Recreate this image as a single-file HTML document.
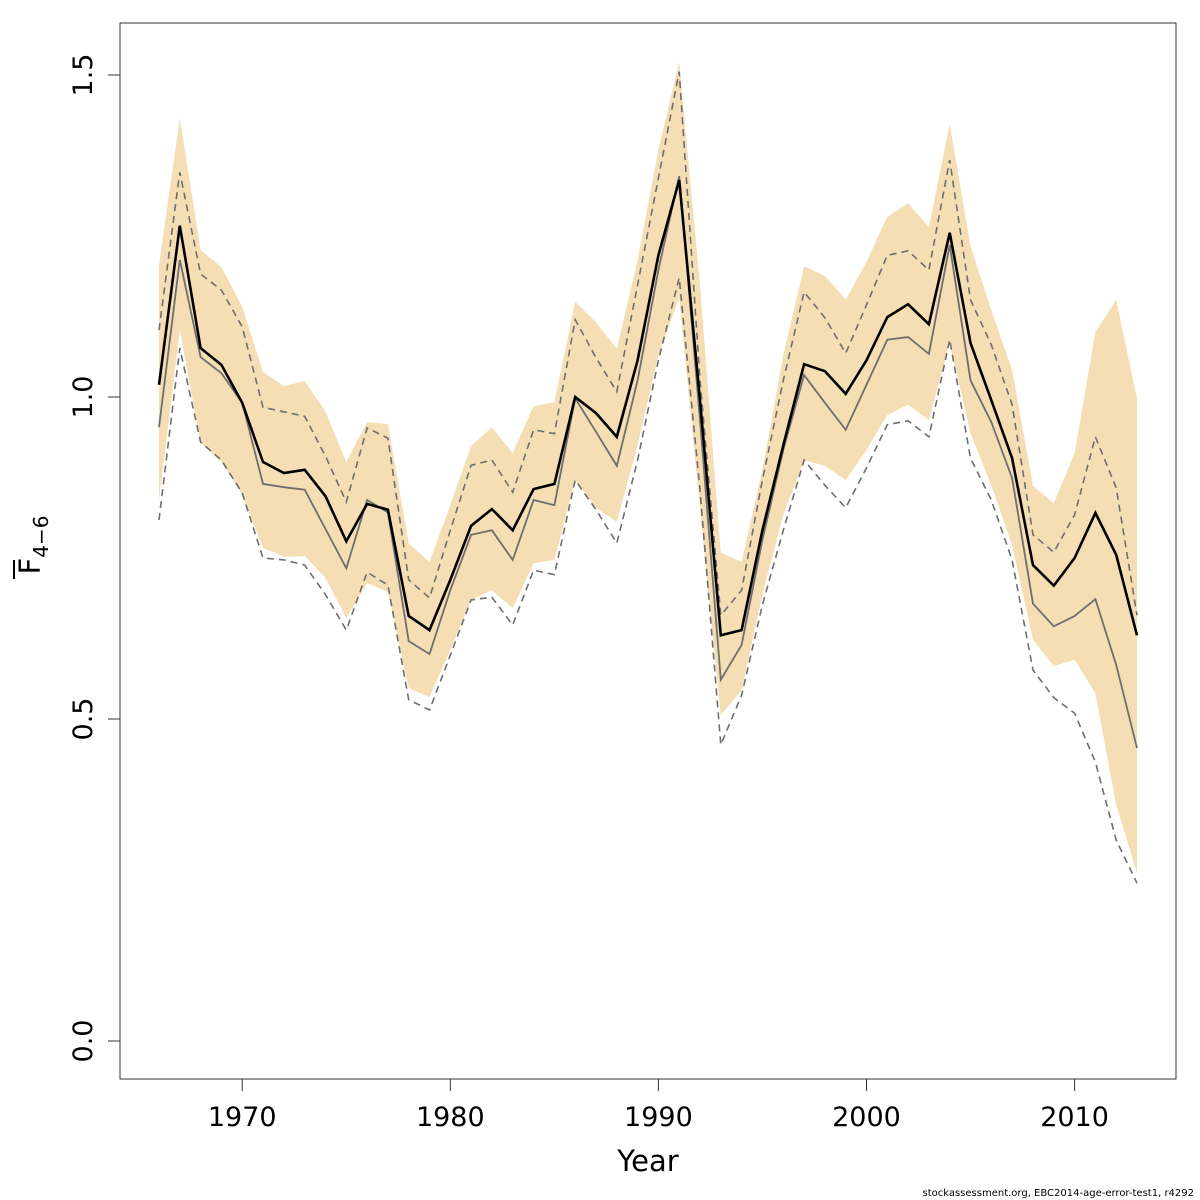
<!DOCTYPE html>
<html><head><meta charset="utf-8"><style>
html,body{margin:0;padding:0;background:#fff;}
svg{display:block;font-family:"DejaVu Sans","Liberation Sans",sans-serif;}
</style></head><body>
<svg id="chart" width="1200" height="1200" viewBox="0 0 1200 1200">
<rect x="120" y="23" width="1056" height="1056" fill="none" stroke="#333" stroke-width="1"/>
<g id="band"></g>
<g id="lines"></g>
<g id="xaxis"></g>
<g id="yaxis"></g>
<text x="648" y="1171" font-size="29" text-anchor="middle" fill="#000">Year</text>
<g transform="translate(40,545) rotate(-90)">
<text x="0" y="0" font-size="29" text-anchor="middle" fill="#000">F<tspan font-size="20" dy="8">4−6</tspan></text>
<line x1="-34" y1="-26" x2="-15" y2="-26" stroke="#000" stroke-width="2"/>
</g>
<text x="1194" y="1196" font-size="10" text-anchor="end" fill="#000">stockassessment.org, EBC2014-age-error-test1, r4292</text>
</svg>
<script>
const years = [1966,1967,1968,1969,1970,1971,1972,1973,1974,1975,1976,1977,1978,1979,1980,1981,1982,1983,1984,1985,1986,1987,1988,1989,1990,1991,1992,1993,1994,1995,1996,1997,1998,1999,2000,2001,2002,2003,2004,2005,2006,2007,2008,2009,2010,2011,2012,2013];
const estimate = [1.019,1.266,1.076,1.050,0.991,0.899,0.882,0.887,0.846,0.776,0.834,0.825,0.660,0.638,0.716,0.800,0.826,0.793,0.857,0.865,1.000,0.975,0.938,1.057,1.220,1.337,0.995,0.630,0.638,0.793,0.925,1.051,1.040,1.005,1.057,1.124,1.144,1.113,1.255,1.084,0.995,0.905,0.739,0.707,0.750,0.820,0.755,0.630];
const median = [0.953,1.213,1.062,1.037,0.991,0.865,0.860,0.856,0.795,0.734,0.840,0.821,0.621,0.601,0.700,0.786,0.793,0.747,0.840,0.832,0.998,0.946,0.893,1.026,1.197,1.343,0.964,0.561,0.615,0.778,0.918,1.034,0.991,0.949,1.019,1.089,1.093,1.067,1.236,1.026,0.961,0.874,0.679,0.644,0.660,0.686,0.584,0.455];
const upperDashed = [1.104,1.349,1.191,1.166,1.109,0.984,0.977,0.970,0.908,0.837,0.952,0.936,0.716,0.688,0.793,0.894,0.902,0.852,0.949,0.943,1.120,1.061,1.008,1.174,1.340,1.505,1.026,0.661,0.700,0.871,1.026,1.163,1.123,1.068,1.143,1.220,1.227,1.197,1.368,1.151,1.081,0.988,0.786,0.759,0.817,0.938,0.859,0.661];
const lowerDashed = [0.809,1.076,0.930,0.902,0.851,0.750,0.747,0.739,0.693,0.638,0.728,0.708,0.530,0.514,0.599,0.685,0.689,0.646,0.731,0.724,0.871,0.825,0.773,0.902,1.057,1.185,0.856,0.460,0.537,0.677,0.793,0.902,0.863,0.828,0.890,0.957,0.963,0.938,1.089,0.905,0.840,0.747,0.576,0.533,0.509,0.433,0.312,0.245];
const bandUpper = [1.205,1.433,1.228,1.202,1.140,1.039,1.017,1.025,0.977,0.899,0.961,0.958,0.773,0.744,0.832,0.924,0.953,0.913,0.986,0.992,1.148,1.116,1.075,1.213,1.384,1.520,1.174,0.758,0.744,0.887,1.065,1.203,1.188,1.151,1.210,1.280,1.301,1.264,1.424,1.234,1.135,1.042,0.862,0.835,0.913,1.101,1.151,0.998];
const bandLower = [0.840,1.104,0.929,0.899,0.848,0.766,0.752,0.753,0.719,0.657,0.711,0.697,0.548,0.534,0.607,0.685,0.700,0.672,0.742,0.747,0.871,0.828,0.806,0.925,1.065,1.154,0.825,0.506,0.545,0.693,0.817,0.902,0.893,0.871,0.918,0.972,0.988,0.964,1.084,0.944,0.863,0.770,0.623,0.582,0.592,0.540,0.366,0.261];
const xTicks = [1970,1980,1990,2000,2010];
const yTicks = [0.0,0.5,1.0,1.5];
const yTickLabels = ["0.0","0.5","1.0","1.5"];

const NS = "http://www.w3.org/2000/svg";
function xs(v){ return 159 + (v-1966)*(1137-159)/(2013-1966); }
function ys(v){ return 1041 - v*644; }
function mk(tag, attrs, parent){
  const e = document.createElementNS(NS, tag);
  for (const k in attrs) e.setAttribute(k, attrs[k]);
  parent.appendChild(e); return e;
}
function pts(arr){ return arr.map((v,i)=>xs(years[i]).toFixed(1)+","+ys(v).toFixed(1)).join(" "); }

const band = document.getElementById("band");
const bandPts = years.map((y,i)=>xs(y).toFixed(1)+","+ys(bandUpper[i]).toFixed(1))
  .concat(years.map((y,i)=>[xs(y).toFixed(1)+","+ys(bandLower[i]).toFixed(1)]).reverse()).join(" ");
const bp = mk("polygon",{points:bandPts,fill:"#f5deb3",stroke:"none"},band);



const lines = document.getElementById("lines");
const l1 = mk("polyline",{points:pts(upperDashed),fill:"none",stroke:"#6e6e6e","stroke-width":1.6,"stroke-dasharray":"7,5"},lines);


const l2 = mk("polyline",{points:pts(lowerDashed),fill:"none",stroke:"#6e6e6e","stroke-width":1.6,"stroke-dasharray":"7,5"},lines);


const l3 = mk("polyline",{points:pts(median),fill:"none",stroke:"#6e6e6e","stroke-width":1.8},lines);


const l4 = mk("polyline",{points:pts(estimate),fill:"none",stroke:"#000","stroke-width":2.6},lines);



const xa = document.getElementById("xaxis");
xTicks.forEach(t=>{
  const x = xs(t);
  const tk = mk("line",{x1:x,y1:1079,x2:x,y2:1091,stroke:"#333","stroke-width":1},xa);
  
  
  const lb = mk("text",{x:x,y:1126,"font-size":27,"text-anchor":"middle",fill:"#000"},xa);
  lb.textContent = t;
  
  
});
const ya = document.getElementById("yaxis");
yTicks.forEach((t,i)=>{
  const y = ys(t);
  const tk = mk("line",{x1:108,y1:y,x2:120,y2:y,stroke:"#333","stroke-width":1},ya);
  
  
  const lb = mk("text",{x:0,y:0,"font-size":27,"text-anchor":"middle",fill:"#000",transform:"translate(92,"+y+") rotate(-90)"},ya);
  lb.textContent = yTickLabels[i];
  
  
});
</script>
</body></html>
